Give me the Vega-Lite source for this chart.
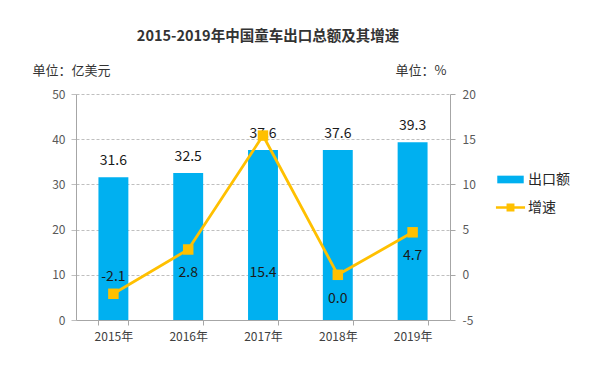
{
  "$schema": "https://vega.github.io/schema/vega-lite/v6.json",
  "autosize": {"type": "none"},
  "width": 374,
  "height": 226,
  "padding": {"left": 76, "top": 94, "right": 144, "bottom": 55},
  "background": "white",
  "config": {
    "font": "Noto Sans CJK SC",
    "view": {"stroke": null},
    "locale": {"number": {"decimal": ".", "thousands": ",", "grouping": [3], "currency": ["$", ""], "minus": "-"}}
  },
  "title": {
    "text": "2015-2019年中国童车出口总额及其增速",
    "anchor": "middle",
    "fontSize": 14.5,
    "fontWeight": "bold",
    "color": "#333333",
    "offset": 20,
    "dx": 5
  },
  "data": {
    "values": [
      {"year": "2015年", "export": 31.6, "growth": -2.1},
      {"year": "2016年", "export": 32.5, "growth": 2.8},
      {"year": "2017年", "export": 37.6, "growth": 15.4},
      {"year": "2018年", "export": 37.6, "growth": 0.0},
      {"year": "2019年", "export": 39.3, "growth": 4.7}
    ]
  },
  "encoding": {
    "x": {
      "field": "year",
      "type": "nominal",
      "sort": null,
      "scale": {"paddingInner": 0.6, "paddingOuter": 0.3},
      "axis": {
        "title": null,
        "labelAngle": 0,
        "labelFontSize": 12,
        "labelColor": "#404040",
        "labelPadding": 6,
        "domainColor": "#a6a6a6",
        "tickColor": "#a6a6a6",
        "tickBand": "extent",
        "tickSize": 5,
        "grid": false
      }
    }
  },
  "layer": [
    {
      "layer": [
        {
          "mark": {"type": "bar"},
          "encoding": {
            "y": {
              "field": "export",
              "type": "quantitative",
              "scale": {"domain": [0, 50], "nice": false},
              "axis": {
                "values": [0, 10, 20, 30, 40, 50],
                "title": "单位：亿美元",
                "titleAngle": 0,
                "titleAlign": "left",
                "titleBaseline": "middle",
                "titleX": -44,
                "titleY": -24,
                "titleFontSize": 13,
                "titleFontWeight": "normal",
                "titleColor": "#333333",
                "labelFontSize": 12,
                "labelColor": "#595959",
                "labelPadding": 6,
                "tickSize": 5,
                "tickColor": "#bfbfbf",
                "domainColor": "#a6a6a6",
                "grid": true,
                "gridColor": "#bfbfbf",
                "gridDash": [3, 2]
              }
            },
            "color": {
              "datum": "出口额",
              "scale": {"domain": ["出口额", "增速"], "range": ["#00B0F0", "#FFC000"]},
              "legend": {
                "title": null,
                "orient": "none",
                "legendX": 421,
                "legendY": 72,
                "padding": 0,
                "labelFontSize": 14,
                "labelColor": "#262626",
                "labelOffset": 4,
                "rowPadding": 7,
                "symbolSize": 700,
                "encode": {
                  "symbols": {
                    "update": {
                      "shape": {"signal": "datum.value === '出口额' ? 'M-1,-0.29H1V0.29H-1Z' : 'M-1.1,-0.1H-0.3V-0.3H0.3V-0.1H1.1V0.1H0.3V0.3H-0.3V0.1H-1.1Z'"},
                      "fill": {"signal": "datum.value === '出口额' ? '#00B0F0' : '#FFC000'"},
                      "stroke": {"value": "transparent"},
                      "strokeWidth": {"value": 0},
                      "size": {"value": 700},
                      "opacity": {"value": 1}
                    }
                  }
                }
              }
            }
          }
        },
        {
          "mark": {"type": "text", "dy": -16, "fontSize": 14, "color": "#1a1a1a", "baseline": "middle"},
          "encoding": {
            "y": {"field": "export", "type": "quantitative"},
            "text": {"field": "export", "type": "quantitative", "format": ".1f"}
          }
        }
      ]
    },
    {
      "layer": [
        {
          "mark": {"type": "line", "strokeWidth": 2.8},
          "encoding": {
            "y": {
              "field": "growth",
              "type": "quantitative",
              "scale": {"domain": [-5, 20], "nice": false},
              "axis": {
                "orient": "right",
                "values": [-5, 0, 5, 10, 15, 20],
                "title": "单位：%",
                "titleAngle": 0,
                "titleAlign": "left",
                "titleBaseline": "middle",
                "titleX": -55,
                "titleY": -24,
                "titleFontSize": 13,
                "titleFontWeight": "normal",
                "titleColor": "#333333",
                "labelFontSize": 12,
                "labelColor": "#595959",
                "labelPadding": 7,
                "tickSize": 5,
                "tickColor": "#a6a6a6",
                "domainColor": "#a6a6a6",
                "grid": false
              }
            },
            "color": {"datum": "增速"}
          }
        },
        {
          "mark": {"type": "point", "shape": "square", "filled": true, "size": 110, "opacity": 1},
          "encoding": {
            "y": {"field": "growth", "type": "quantitative"},
            "color": {"datum": "增速"}
          }
        },
        {
          "transform": [{"filter": "datum.year !== '2015年' && datum.year !== '2017年'"}],
          "mark": {"type": "text", "dy": 24, "fontSize": 14, "color": "#1a1a1a", "baseline": "middle"},
          "encoding": {
            "y": {"field": "growth", "type": "quantitative"},
            "text": {"field": "growth", "type": "quantitative", "format": ".1f"}
          }
        },
        {
          "transform": [{"filter": "datum.year === '2015年'"}],
          "mark": {"type": "text", "dy": -17, "fontSize": 14, "color": "#1a1a1a", "baseline": "middle"},
          "encoding": {
            "y": {"field": "growth", "type": "quantitative"},
            "text": {"field": "growth", "type": "quantitative", "format": ".1f"}
          }
        },
        {
          "transform": [{"filter": "datum.year === '2017年'"}],
          "mark": {"type": "text", "dy": 137, "fontSize": 14, "color": "#1a1a1a", "baseline": "middle"},
          "encoding": {
            "y": {"field": "growth", "type": "quantitative"},
            "text": {"field": "growth", "type": "quantitative", "format": ".1f"}
          }
        }
      ]
    }
  ],
  "resolve": {"scale": {"y": "independent"}}
}
